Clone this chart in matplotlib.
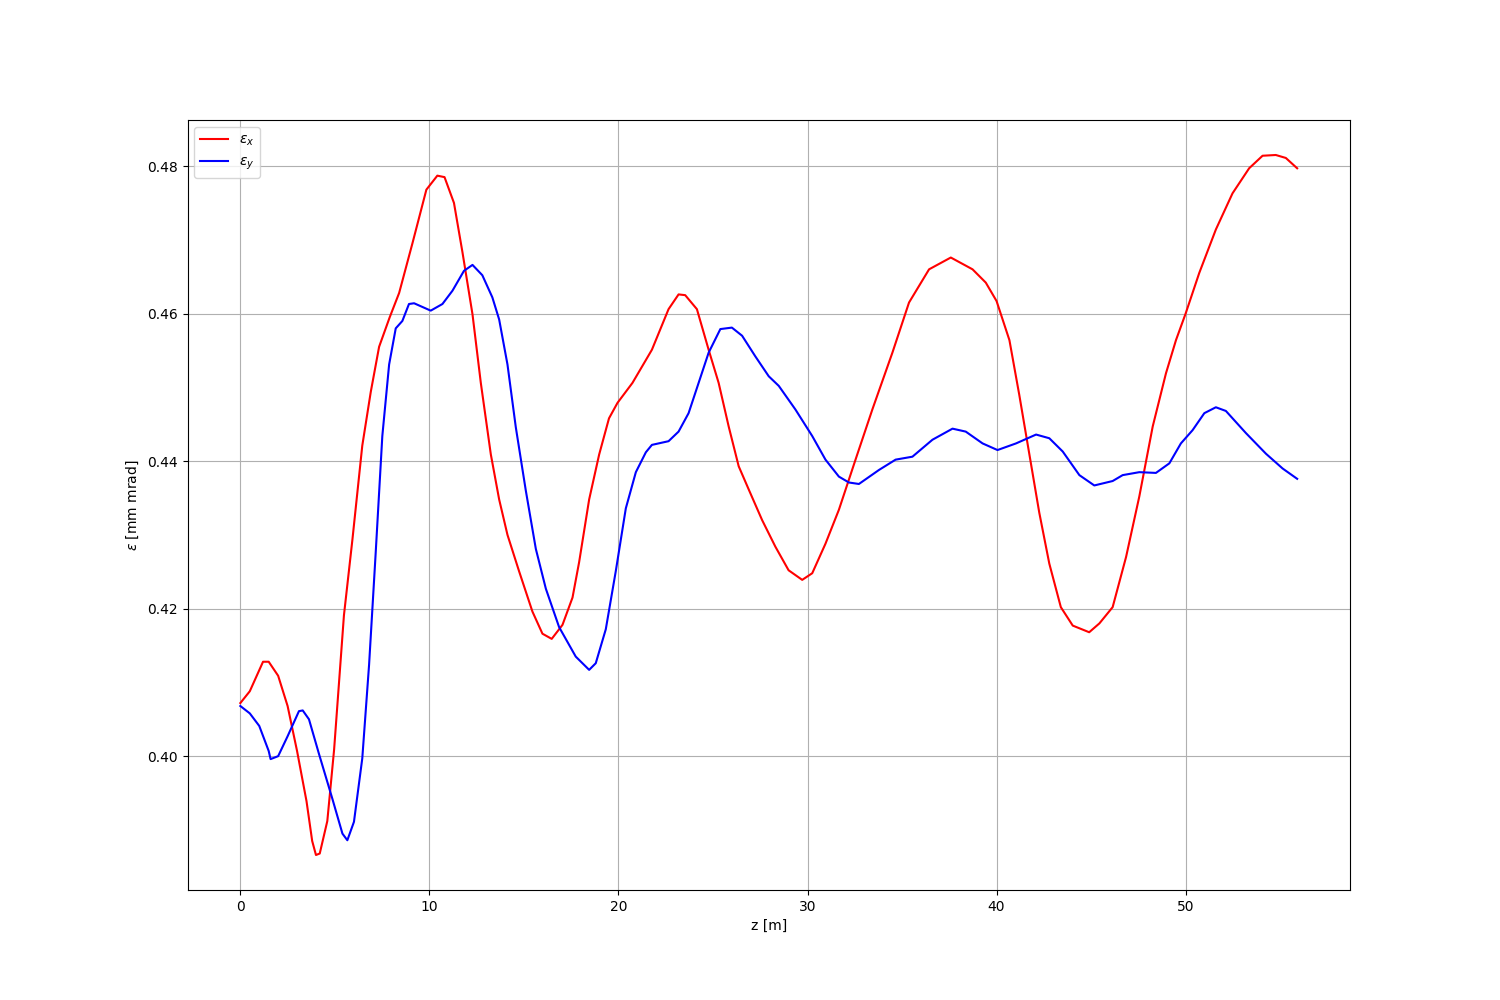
import numpy as np
import matplotlib
matplotlib.use("Agg")
import matplotlib.pyplot as plt

# emittance along the beamline
z_x = [0, 0.5, 1.2, 1.5, 2, 2.5, 3, 3.5, 3.8, 4.0, 4.2, 4.6, 4.96, 5.48, 5.93, 6.45, 6.9,
       7.34, 7.9, 8.4, 9.1, 9.84, 10.42, 10.8, 11.3, 11.75, 12.28, 12.72, 13.25, 13.69,
       14.13, 14.74, 15.45, 15.98, 16.47, 17.04, 17.57, 17.92, 18.45, 18.98, 19.5, 19.95,
       20.74, 21.45, 21.77, 22.65, 23.18, 23.53, 24.15, 24.77, 25.3, 25.83, 26.36, 26.9,
       27.6, 28.3, 29.0, 29.72, 30.25, 30.95, 31.66, 32.54, 33.43, 34.49, 35.37, 36.43,
       37.58, 38.73, 39.43, 40.0, 40.68, 41.2, 41.73, 42.26, 42.79, 43.4, 44.03, 44.9,
       45.44, 46.14, 46.85, 47.55, 48.26, 48.96, 49.49, 50.0, 50.72, 51.6, 52.48, 53.36,
       54.07, 54.77, 55.3, 55.9]
eps_x = [0.4072, 0.4088, 0.4128, 0.4128, 0.4109, 0.4068, 0.4007, 0.3939, 0.3885, 0.3866,
         0.3868, 0.3912, 0.4009, 0.4191, 0.4294, 0.4421, 0.4494, 0.4555, 0.4595, 0.4628,
         0.4695, 0.4768, 0.4787, 0.4785, 0.4750, 0.4683, 0.4599, 0.4506, 0.4409, 0.4348,
         0.4300, 0.4251, 0.4196, 0.4166, 0.4159, 0.4178, 0.4215, 0.4263, 0.4348, 0.4409,
         0.4458, 0.4479, 0.4506, 0.4537, 0.4551, 0.4606, 0.4626, 0.4625, 0.4606, 0.4551,
         0.4506, 0.4447, 0.4393, 0.4361, 0.4320, 0.4284, 0.4252, 0.4239, 0.4248, 0.4288,
         0.4334, 0.4402, 0.4470, 0.4547, 0.4615, 0.4660, 0.4676, 0.4660, 0.4642, 0.4617,
         0.4564, 0.4490, 0.4410, 0.4330, 0.4261, 0.4202, 0.4177, 0.4168, 0.4180, 0.4202,
         0.4270, 0.4352, 0.4447, 0.4519, 0.4564, 0.4600, 0.4655, 0.4714, 0.4763, 0.4797,
         0.4814, 0.4815, 0.4811, 0.4797]

z_y = [0, 0.5, 1, 1.5, 1.6, 2, 2.5, 3.1, 3.3, 3.63, 4.16, 4.87, 5.4, 5.66, 6.01, 6.45,
       6.81, 7.16, 7.51, 7.87, 8.22, 8.57, 8.92, 9.19, 10.07, 10.69, 11.22, 11.83, 12.28,
       12.8, 13.33, 13.69, 14.13, 14.57, 15.1, 15.63, 16.16, 16.86, 17.74, 18.45, 18.8,
       19.33, 19.86, 20.39, 20.92, 21.45, 21.77, 22.65, 23.18, 23.71, 24.24, 24.77, 25.39,
       26.0, 26.54, 27.24, 27.95, 28.48, 29.36, 30.25, 30.95, 31.66, 32.19, 32.72, 33.78,
       34.66, 35.55, 36.61, 37.67, 38.37, 39.26, 40.05, 41.03, 42.09, 42.79, 43.5, 44.38,
       45.17, 46.14, 46.67, 47.55, 48.43, 49.14, 49.75, 50.37, 50.99, 51.6, 52.13, 53.19,
       54.25, 55.13, 55.9]
eps_y = [0.4068, 0.4058, 0.4041, 0.4007, 0.3996, 0.4000, 0.4027, 0.4061, 0.4062, 0.4050,
         0.4003, 0.3942, 0.3895, 0.3886, 0.3911, 0.3997, 0.4124, 0.4276, 0.4434, 0.4531,
         0.4580, 0.4590, 0.4613, 0.4614, 0.4604, 0.4613, 0.4631, 0.4658, 0.4666, 0.4652,
         0.4622, 0.4592, 0.4531, 0.4446, 0.4360, 0.4281, 0.4227, 0.4175, 0.4135, 0.4117,
         0.4126, 0.4172, 0.4251, 0.4336, 0.4385, 0.4412, 0.4422, 0.4427, 0.4440, 0.4465,
         0.4506, 0.4547, 0.4579, 0.4581, 0.4570, 0.4542, 0.4515, 0.4502, 0.4470, 0.4434,
         0.4402, 0.4379, 0.4371, 0.4369, 0.4388, 0.4402, 0.4406, 0.4429, 0.4444, 0.4440,
         0.4424, 0.4415, 0.4424, 0.4436, 0.4431, 0.4413, 0.4381, 0.4367, 0.4373, 0.4381,
         0.4385, 0.4384, 0.4397, 0.4424, 0.4442, 0.4465, 0.4473, 0.4468, 0.4438, 0.4410,
         0.4390, 0.4376]

fig = plt.figure(figsize=(15, 10), dpi=100)
ax = fig.add_subplot(111)
ax.plot(z_x, eps_x, color='red', label=r'$\epsilon_x$')
ax.plot(z_y, eps_y, color='blue', label=r'$\epsilon_y$')
ax.set_xlabel('z [m]')
ax.set_ylabel(r'$\epsilon$ [mm mrad]')
ax.grid(True)
ax.legend(loc='upper left')
fig.savefig('out.png')
